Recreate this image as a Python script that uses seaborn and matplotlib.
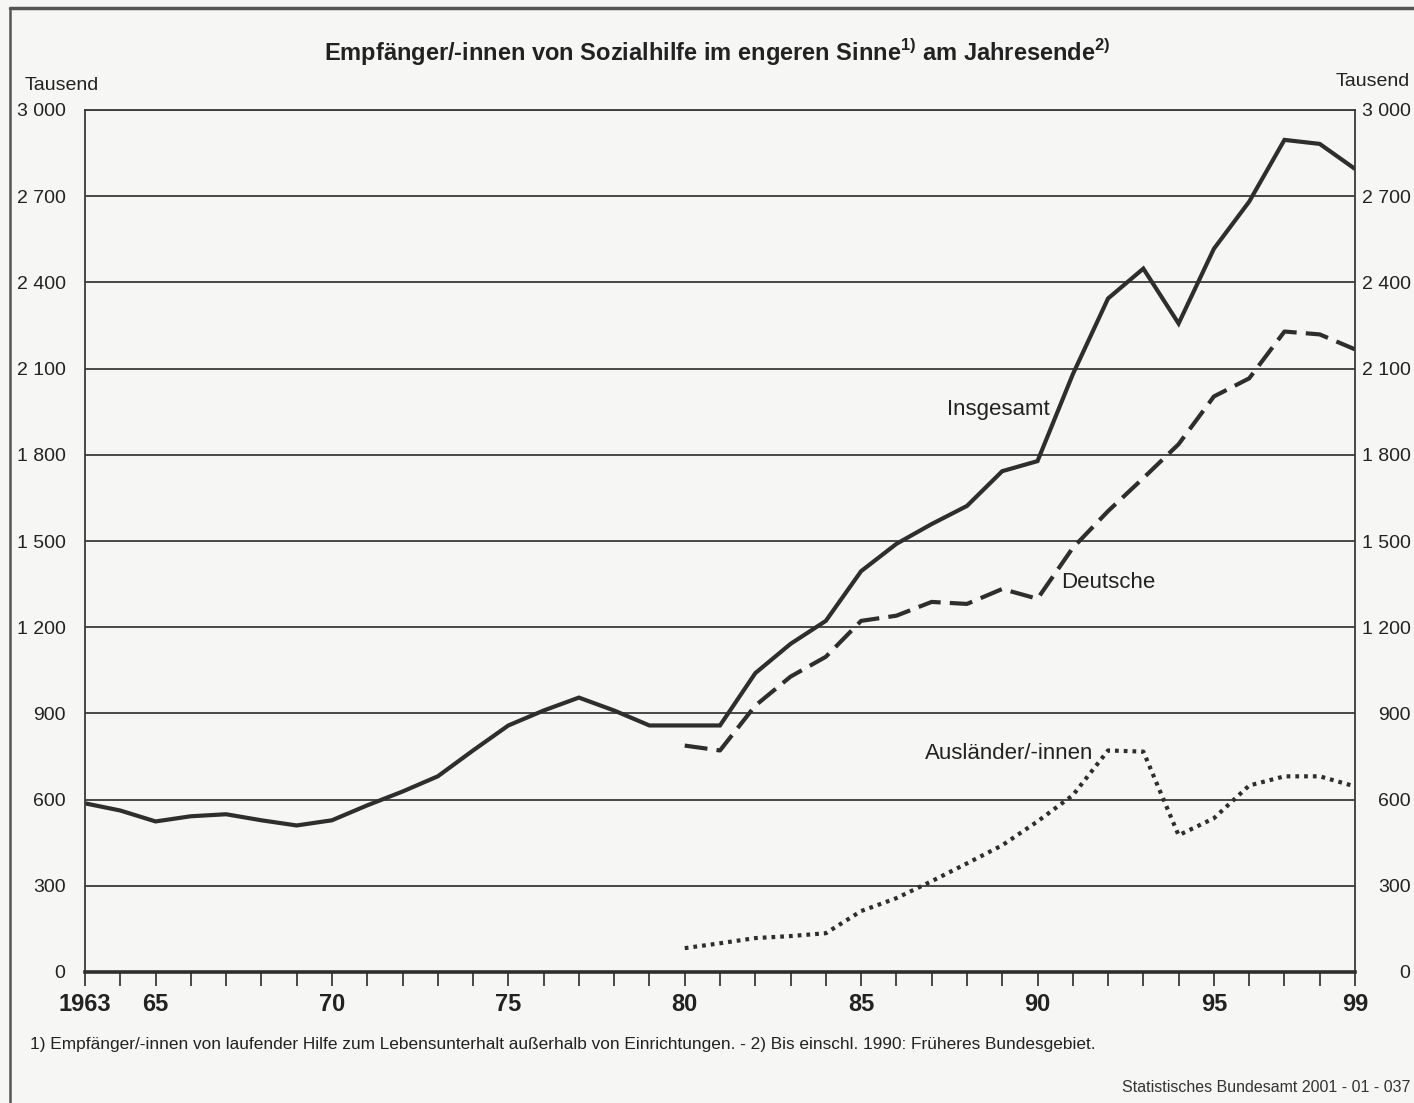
import numpy as np
import pandas as pd
import seaborn as sns
import matplotlib
matplotlib.use("Agg")
import matplotlib.pyplot as plt
from matplotlib.ticker import FuncFormatter
from matplotlib.lines import Line2D

# ---------------- data (Tausend) ----------------
years_all = list(range(1963, 2000))
insgesamt = [587, 562, 524, 542, 549, 528, 510, 528, 580, 628, 681, 771, 858, 910, 955,
             910, 858, 858, 858, 1040, 1142, 1222, 1395, 1490, 1559, 1622, 1743, 1778,
             2080, 2344, 2448, 2257, 2517, 2681, 2896, 2882, 2795]
years_8099 = list(range(1980, 2000))
deutsche = [788, 771, 927, 1028, 1097, 1222, 1240, 1288, 1281, 1333, 1299,
            1476, 1604, 1719, 1837, 2003, 2066, 2229, 2219, 2167]
auslaender = [83, 100, 118, 125, 135, 212, 257, 316, 378, 441, 524,
              615, 771, 767, 476, 535, 649, 681, 681, 646]

series_labels = ["Insgesamt", "Deutsche", "Ausländer/-innen"]
x_tick_years = list(range(1963, 2000))
x_label_map = {1963: "1963", 1965: "65", 1970: "70", 1975: "75", 1980: "80",
               1985: "85", 1990: "90", 1995: "95", 1999: "99"}
y_ticks = [0, 300, 600, 900, 1200, 1500, 1800, 2100, 2400, 2700, 3000]

title = "Empfänger/-innen von Sozialhilfe im engeren Sinne$^{\\mathregular{1)}}$ am Jahresende$^{\\mathregular{2)}}$"
footnote = "1) Empfänger/-innen von laufender Hilfe zum Lebensunterhalt außerhalb von Einrichtungen. - 2) Bis einschl. 1990: Früheres Bundesgebiet."
source = "Statistisches Bundesamt 2001 - 01 - 037"

df = pd.concat([
    pd.DataFrame({"Jahr": years_all, "Wert": insgesamt, "Gruppe": series_labels[0]}),
    pd.DataFrame({"Jahr": years_8099, "Wert": deutsche, "Gruppe": series_labels[1]}),
    pd.DataFrame({"Jahr": years_8099, "Wert": auslaender, "Gruppe": series_labels[2]}),
])

# ---------------- style ----------------
sns.set_theme(style="white")
plt.rcParams["font.family"] = ["Liberation Sans", "DejaVu Sans"]
plt.rcParams["mathtext.fontset"] = "custom"
plt.rcParams["mathtext.rm"] = "Liberation Sans"

bg = "#f6f6f4"
ink = "#2e2e2e"
txt = "#222222"

fig = plt.figure(figsize=(14.14, 11.03), dpi=100, facecolor=bg)
ax = fig.add_axes([85 / 1414, 1 - 972 / 1103, (1355 - 85) / 1414, (972 - 110) / 1103])
ax.set_facecolor(bg)

styles = {
    series_labels[0]: dict(linestyle="-", linewidth=3.0),
    series_labels[1]: dict(linestyle=(0, (5.5, 2.2)), linewidth=3.0),
    series_labels[2]: dict(linestyle=(0, (0.9, 1.2)), linewidth=3.0),
}
for name in series_labels:
    sub = df[df["Gruppe"] == name]
    sns.lineplot(data=sub, x="Jahr", y="Wert", ax=ax, color=ink,
                 solid_joinstyle="miter", dash_capstyle="butt", **styles[name])

ax.set_xlim(1963, 1999)
ax.set_ylim(0, 3000)
ax.set_xlabel("")
ax.set_ylabel("")

# grid lines
for yv in y_ticks[1:]:
    ax.axhline(yv, color="#3a3a3a", linewidth=1.3, zorder=0)

for s in ["left", "right", "top"]:
    ax.spines[s].set_color("#3a3a3a")
    ax.spines[s].set_linewidth(1.3)
ax.spines["bottom"].set_color(ink)
ax.spines["bottom"].set_linewidth(2.6)

# x ticks
ax.set_xticks(x_tick_years)
ax.set_xticklabels([x_label_map.get(y, "") for y in x_tick_years],
                   fontsize=17, fontweight="bold", color=txt)
ax.tick_params(axis="x", bottom=True, direction="out", length=10, width=1.3,
               color="#3a3a3a", pad=5)

# y ticks both sides
fmt = FuncFormatter(lambda v, p: f"{int(v):,}".replace(",", " "))
ax.set_yticks(y_ticks)
ax.yaxis.set_major_formatter(fmt)
ax.tick_params(axis="y", left=False, length=0, labelsize=14, labelcolor=txt, pad=14)

ax2 = ax.twinx()
ax2.set_ylim(0, 3000)
ax2.set_yticks(y_ticks)
ax2.yaxis.set_major_formatter(fmt)
ax2.tick_params(axis="y", right=False, length=0, labelsize=14, labelcolor=txt, pad=40)
for lab in ax2.get_yticklabels():
    lab.set_horizontalalignment("right")
for s in ax2.spines.values():
    s.set_visible(False)

# series labels
ax.text(1988.9, 1956, series_labels[0], fontsize=16, color=txt, ha="center", va="center")
ax.text(1992.0, 1357, series_labels[1], fontsize=16, color=txt, ha="center", va="center")
ax.text(1989.2, 759, series_labels[2], fontsize=16, color=txt, ha="center", va="center")

# texts
fig.text(717 / 1414, 1 - 52 / 1103, title, fontsize=17, fontweight="bold",
         ha="center", va="center", color=txt)
fig.text(25 / 1414, 1 - 86 / 1103, "Tausend", fontsize=14, ha="left", va="center", color=txt)
fig.text(1410 / 1414, 1 - 82 / 1103, "Tausend", fontsize=14, ha="right", va="center", color=txt)
fig.text(30 / 1414, 1 - 1045 / 1103, footnote, fontsize=12.4, ha="left", va="center", color=txt)
fig.text(1410 / 1414, 1 - 1087 / 1103, source, fontsize=11.5, ha="right", va="center", color="#333333")

# outer frame
fig.add_artist(Line2D([10 / 1414, 1.0], [1 - 8 / 1103, 1 - 8 / 1103],
                      transform=fig.transFigure, color="#555555", linewidth=2.5))
fig.add_artist(Line2D([10 / 1414, 10 / 1414], [0, 1 - 8 / 1103],
                      transform=fig.transFigure, color="#555555", linewidth=1.8))

fig.savefig("out.png", dpi=100, facecolor=bg)
